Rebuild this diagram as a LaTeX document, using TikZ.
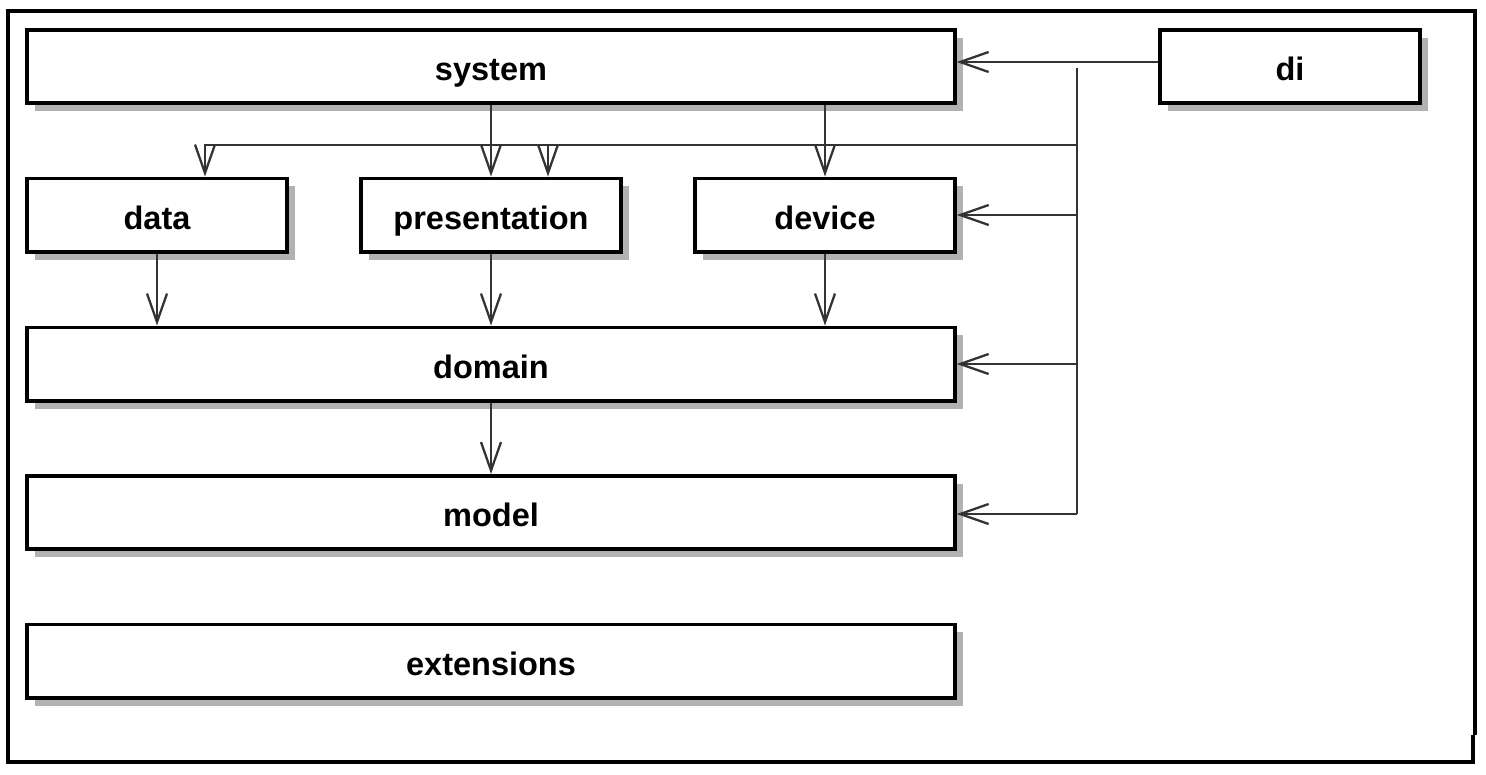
\documentclass[tikz,border=0pt]{standalone}
\usepackage{fontspec}
\setmainfont{Liberation Sans}
\usetikzlibrary{arrows.meta,shadows}

\begin{document}
\begin{tikzpicture}[x=0.02cm,y=-0.02cm,
		pkg/.style={draw,line width=2pt,fill=white,minimum height=1.47cm,inner sep=0pt,
			text height=0.7cm,text depth=0.14cm,
			font=\fontsize{18.5}{22}\selectfont\bfseries,
			drop shadow={shadow xshift=0.16cm,shadow yshift=-0.16cm,fill=black!30,opacity=1}},
		wide/.style={pkg,minimum width=18.56cm},
		narrow/.style={pkg,minimum width=5.2cm},
		bus/.style={draw=black!80,line width=1.3pt},
		dep/.style={bus,-{Straight Barb[length=0.57cm,width=0.4cm,line width=1.3pt]}}]
				\useasboundingbox (0,0) rectangle (1486,774);
				\draw[line width=2pt] (1473,735) -- (1473,762) -- (8,762) -- (8,11) -- (1475,11) -- (1475,735);
				\node[wide] (system) at (491,66.5) {system};
				\node[narrow] (di) at (1290,66.5) {di};
				\node[narrow] (data) at (157,215) {data};
				\node[narrow] (presentation) at (491,215) {presentation};
				\node[narrow] (device) at (825,215) {device};
				\node[wide] (domain) at (491,364) {domain};
				\node[wide] (model) at (491,512.5) {model};
				\node[wide] (extensions) at (491,661) {extensions};
				\coordinate (bt) at (1077,68);
				\coordinate (bb) at (1077,514);
				\coordinate (j) at (1077,145);
				\coordinate (pin) at ([xshift=1.14cm]presentation.north);
				\draw[dep] ([yshift=0.09cm]di.west) -- ([yshift=0.09cm]system.east);
				\draw[bus] (bt) -- (bb);
				\draw[dep] (bb) -- (model.east |- bb);
				\draw[dep] (bt |- domain.east) -- (domain.east);
				\draw[dep] (bt |- device.east) -- (device.east);
				\draw[dep] (j) -| ([xshift=0.96cm]data.north);
				\draw[dep] (pin |- j) -- (pin);
				\draw[dep] (system.south) -- (presentation.north);
				\draw[dep] (system.south -| device.north) -- (device.north);
				\draw[dep] (data.south) -- (data.south |- domain.north);
				\draw[dep] (presentation.south) -- (domain.north);
				\draw[dep] (device.south) -- (device.south |- domain.north);
				\draw[dep] (domain.south) -- (model.north);
			\end{tikzpicture}
\end{document}
